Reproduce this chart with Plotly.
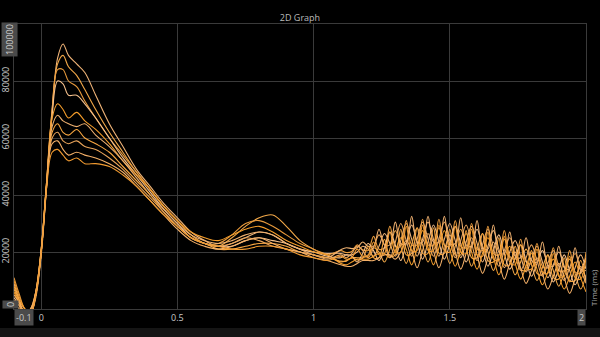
import plotly.graph_objects as go

# Time axis (ms)
time_ms = [-0.1, -0.08, -0.06, -0.04, -0.02, 0, 0.02, 0.04, 0.06, 0.08, 0.1, 0.13, 0.16, 0.2, 0.25,
           0.3, 0.35, 0.4, 0.45, 0.5, 0.55, 0.6, 0.65, 0.7, 0.75, 0.8, 0.85, 0.9, 0.95, 1.0, 1.05,
           1.1, 1.12, 1.14, 1.16, 1.18, 1.2, 1.22, 1.24, 1.26, 1.28, 1.3, 1.32, 1.34, 1.36, 1.38,
           1.4, 1.42, 1.44, 1.46, 1.48, 1.5, 1.52, 1.54, 1.56, 1.58, 1.6, 1.62, 1.64, 1.66, 1.68,
           1.7, 1.72, 1.74, 1.76, 1.78, 1.8, 1.82, 1.84, 1.86, 1.88, 1.9, 1.92, 1.94, 1.96, 1.98, 2.0]

# Signal values, in thousands
curve_1 = [9, 3, -2, -1, 6, 21, 45, 70, 88, 93, 89, 86, 83, 75, 65, 57, 49, 43, 37, 32, 27, 24, 22, 23, 25, 27, 26, 23, 21, 20, 19.5,
           19.5, 19, 19, 20, 22, 21, 18.5, 22, 26.5, 23, 18.5, 24, 30, 24.5, 18.5, 24.5, 30.5, 24.5, 18.5, 24.5,
           30, 24, 18, 23.5, 29, 23, 16.5, 22, 27.5, 21, 14.5, 20, 24, 18.5, 13, 17.5, 22, 16.5, 11, 15.5,
           20, 15, 9.5, 14.5, 19, 14]
curve_2 = [7, 2, -3, -2, 5, 20, 44, 69, 86, 89, 85, 82, 77, 70, 62, 55, 48, 42, 36, 31, 26, 23, 22, 25, 29, 32, 33, 29, 24, 21, 19,
           16.5, 17, 18, 18, 18, 19, 21.5, 20, 16.5, 21, 27.5, 22, 16, 22.5, 28.5, 22.5, 16.5, 22.5, 28.5, 22.5,
           16, 22, 28, 21.5, 15, 21, 26.5, 20, 13.5, 19, 24.5, 18, 12, 16.5, 21, 15.5, 10, 14.5, 19, 13.5,
           8, 13, 17.5, 12.5, 7, 12]
curve_3 = [11, 5, 0, -1, 6, 21, 45, 70, 84, 84, 80, 78, 73, 67, 60, 54, 48, 42, 36, 31, 26, 23, 23, 26, 30, 31, 29, 26, 23, 21, 19,
           20.5, 19.8, 20.2, 22.5, 20.8, 20.5, 25.5, 21, 21.5, 29, 22, 22, 31, 22.5, 22.5, 31.5, 22.5, 22.5, 31.5, 22.5,
           22, 31, 22, 21.5, 30, 21, 20.5, 29, 19.5, 19, 27.5, 18.5, 17.5, 24.5, 16.5, 16, 23, 15, 14.5, 21.5,
           13.5, 13.5, 20.5, 13, 12.5, 20]
curve_4 = [4, 1, -2, -2, 5, 20, 44, 68, 80, 79, 75, 75, 72, 67, 60, 53, 47, 41, 35, 30, 25, 23, 22, 22, 24, 25, 24, 23, 21, 20, 18.5,
           18, 19, 18.5, 16.5, 19.5, 23, 20.5, 17, 21.5, 27, 22.5, 17, 23, 29.5, 23.5, 17.5, 23.5, 29.5, 23.5, 17.5,
           23, 29, 23, 16.5, 22, 28, 21.5, 15, 20.5, 26, 19.5, 14, 18, 22.5, 17, 11.5, 16, 20.5, 15, 9.5,
           14, 19, 13.5, 8.5, 13, 18]
curve_5 = [6, 2, -1, 0, 6, 21, 45, 67, 72, 70, 67, 69, 66, 63, 58, 52, 47, 42, 36, 31, 27, 25, 24, 26, 28, 29, 27, 24, 22, 20, 19,
           16, 15.5, 16.5, 17.5, 17.5, 17.5, 18.5, 19.5, 19.5, 18, 20.5, 25, 21, 15.5, 21.5, 27.5, 21.5, 15.5, 21.5, 27.5,
           21, 15, 21, 26.5, 20, 14, 19.5, 25, 18.5, 12, 17.5, 22, 16, 10.5, 15, 19.5, 14, 8.5, 13, 17.5,
           12, 7, 11.5, 16.5, 11, 6]
curve_6 = [2, 0, -3, -2, 4, 19, 43, 64, 68, 66, 65, 64, 65, 61, 57, 52, 46, 40, 35, 30, 26, 24, 23, 24, 26, 27, 26, 23, 21, 19, 18,
           20.8, 21.5, 21.2, 21.5, 23.5, 22, 22, 28, 22.5, 22.5, 30.5, 23, 23, 32.5, 23.5, 23.5, 32.5, 23.5, 23.5, 32.5,
           23, 23, 32, 22.5, 22, 31, 21.5, 21, 29.5, 20, 19.5, 27, 18.5, 18, 25, 17, 16.5, 23.5, 15.5, 15,
           22, 14.5, 14, 21.5, 13.5, 13.5]
curve_7 = [8, 3, 0, -1, 5, 20, 44, 62, 65, 62, 61, 63, 60, 58, 55, 50, 45, 40, 34, 29, 25, 23, 21, 21, 22, 23, 23, 22, 20, 19, 18,
           16.8, 16.8, 18, 17.2, 17.8, 22, 18, 18, 24.5, 18.5, 19, 28, 19, 19.5, 28.5, 19.5, 19.5, 28.5, 19.5, 19.5,
           28, 19, 19, 27.5, 18, 18, 26.5, 17, 16.5, 25, 15.5, 15.5, 22, 14, 13.5, 20.5, 12.5, 12, 19, 11,
           10.5, 18, 10, 10, 17, 9.5]
curve_8 = [3, 1, -2, -1, 5, 20, 43, 60, 62, 59, 58, 59, 57, 56, 53, 49, 44, 39, 34, 29, 25, 23, 22, 23, 25, 24, 22, 21, 20, 19, 17.5,
           19, 18, 19.5, 22, 20.5, 18, 21.5, 26, 22.5, 18, 23.5, 30, 24, 18.5, 24.5, 30.5, 24.5, 18.5, 24.5, 30.5,
           24, 18, 24, 29.5, 23, 17, 22.5, 28, 21.5, 15, 20.5, 25, 19, 13.5, 18, 22.5, 17, 11.5, 16, 20.5,
           15, 10, 14.5, 19.5, 14, 9]
curve_9 = [5, 2, -1, 0, 6, 21, 44, 58, 59, 56, 54, 55, 54, 53, 51, 48, 43, 38, 33, 28, 24, 22, 21, 22, 24, 25, 23, 21, 20, 18, 17,
           15.5, 15, 15, 16, 17, 17, 17, 18, 19, 19, 17.5, 20, 24, 20.5, 14.5, 20.5, 26.5, 20.5, 14.5, 20.5,
           26, 20, 14, 19.5, 25, 19, 12.5, 18, 23.5, 17, 10.5, 16, 20, 14.5, 9, 13.5, 18, 12.5, 7, 11.5,
           16, 11, 5.5, 10.5, 15, 10]
curve_10 = [10, 4, 0, -2, 5, 20, 43, 55, 56, 54, 52, 53, 51, 51, 50, 47, 43, 38, 33, 29, 25, 23, 22, 21, 21, 22, 22, 21, 19, 18, 17,
            18.5, 17.5, 18, 21, 18.5, 18.5, 23.5, 19, 19.5, 27, 20, 20, 29, 20.5, 20.5, 29.5, 20.5, 20.5, 29.5, 20.5,
            20, 29, 20, 19.5, 28, 19, 18.5, 27, 17.5, 17, 25.5, 16.5, 15.5, 22.5, 14.5, 14, 21, 13, 12.5, 19.5,
            11.5, 11.5, 18.5, 11, 10.5, 18]

curves = [curve_1, curve_2, curve_3, curve_4, curve_5, curve_6, curve_7, curve_8, curve_9, curve_10]
colors = ['#f0b478', '#f2a848', '#e89a3c', '#f5c08c', '#f39c2a', '#eeb070', '#f7a640', '#e9a45a', '#f4b068', '#f09a30']

x_tick_vals = [0, 0.5, 1, 1.5]
x_tick_text = ['0', '0.5', '1', '1.5']
y_tick_vals = [20000, 40000, 60000, 80000]
y_tick_text = ['20000', '40000', '60000', '80000']

fig = go.Figure()
for vals, col in zip(curves, colors):
    fig.add_trace(go.Scatter(x=time_ms, y=[v * 1000 for v in vals], mode='lines',
                             line=dict(color=col, width=1.1, shape='spline', smoothing=1.0),
                             hoverinfo='skip'))

grid = '#3a3a3a'
tick_font = dict(family='Open Sans', size=9, color='#c8c8c8')
fig.update_layout(
    width=600, height=337,
    margin=dict(l=14, r=14, t=24, b=28),
    paper_bgcolor='#000000', plot_bgcolor='#000000',
    showlegend=False,
    title=dict(text='2D Graph', x=0.5, xanchor='center', y=1 - 18 / 337, yanchor='middle',
               font=dict(family='Open Sans', size=9, color='#bbbbbb')),
    xaxis=dict(range=[-0.1, 2], tickvals=x_tick_vals, ticktext=x_tick_text, showgrid=True,
               gridcolor=grid, gridwidth=1, zeroline=False, showline=True, linecolor=grid,
               mirror=True, ticks='', tickfont=tick_font, automargin=False),
    yaxis=dict(range=[0, 100000], tickvals=y_tick_vals, ticktext=y_tick_text, tickangle=-90,
               showgrid=True, gridcolor=grid, gridwidth=1, zeroline=False, showline=True,
               linecolor=grid, mirror=True, ticks='', tickfont=tick_font, automargin=False),
)

box = '#4a4a4a'
fig.add_annotation(text='0', xref='paper', yref='y', x=-4 / 572, y=1400, xanchor='center', yanchor='middle',
                   textangle=-90, showarrow=False, bgcolor=box, font=tick_font, borderpad=1)
fig.add_annotation(text='100000', xref='paper', yref='y', x=-4 / 572, y=94400, xanchor='center', yanchor='middle',
                   textangle=-90, showarrow=False, bgcolor=box, font=tick_font, borderpad=1)
fig.add_annotation(text='-0.1', xref='x', yref='paper', x=-0.065, y=-8 / 285, xanchor='center', yanchor='middle',
                   showarrow=False, bgcolor=box, font=tick_font, borderpad=1)
fig.add_annotation(text='2', xref='x', yref='paper', x=1.982, y=-8 / 285, xanchor='center', yanchor='middle',
                   showarrow=False, bgcolor=box, font=tick_font, borderpad=1)
fig.add_annotation(text='Time (ms)', xref='paper', yref='paper', x=1 + 7 / 572, y=21 / 285, xanchor='center',
                   yanchor='middle', textangle=-90, showarrow=False,
                   font=dict(family='Open Sans', size=8, color='#a8a8a8'))
fig.add_shape(type='rect', xref='paper', yref='paper', x0=-0.1, x1=1.1, y0=-19 / 285, y1=-0.3,
              fillcolor='#151515', line=dict(width=0), layer='below')

fig.write_html('out.html')
